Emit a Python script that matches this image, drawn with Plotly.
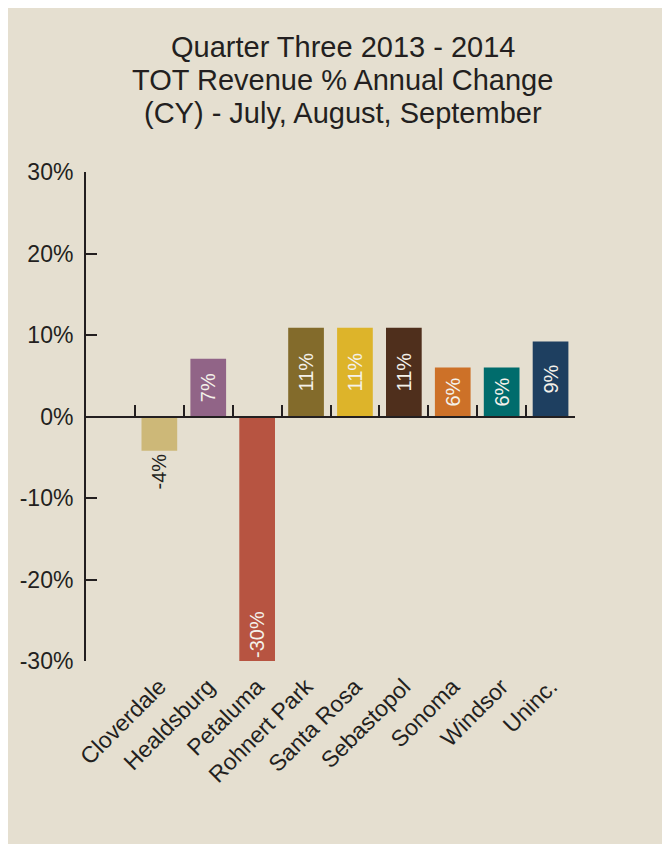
import plotly.graph_objects as go

categories = ["Cloverdale", "Healdsburg", "Petaluma", "Rohnert Park", "Santa Rosa",
              "Sebastopol", "Sonoma", "Windsor", "Uninc."]
values = [-4.2, 7.1, -30.0, 10.9, 10.9, 10.9, 6.0, 6.0, 9.2]
value_labels = ["-4%", "7%", "-30%", "11%", "11%", "11%", "6%", "6%", "9%"]
colors = ["#cdb878", "#916487", "#b75441", "#836b2b", "#ddb42a",
          "#4f2f1c", "#cd7128", "#006c6c", "#1e3f60"]
title_lines = ["Quarter Three 2013 - 2014", "TOT Revenue % Annual Change",
               "(CY) - July, August, September"]
y_ticks = [-30, -20, -10, 0, 10, 20, 30]
y_ticktext = ["-30%", "-20%", "-10%", "0%", "10%", "20%", "30%"]

BG = "#e5dfd0"
INK = "#231f20"
FONT = "Liberation Sans, Arial, sans-serif"

W, H = 670, 844
OFF = 8  # page body margin
L, R, T, B = 84 - OFF, 670 - 575 + OFF, 172 - OFF, 844 - 661 + OFF
pw, ph = W - L - R, H - T - B

def px_x(p):
    return (p - OFF - L) / pw

def px_y(p):
    return (H - B - (p - OFF)) / ph

fig = go.Figure()

idx_a = [i for i in range(len(categories)) if categories[i] != "Petaluma"]
idx_b = [i for i in range(len(categories)) if categories[i] == "Petaluma"]

fig.add_trace(go.Bar(
    x=[categories[i] for i in idx_a],
    y=[values[i] for i in idx_a],
    text=[value_labels[i] for i in idx_a],
    textposition=["outside" if values[i] < 0 else "inside" for i in idx_a],
    insidetextanchor="middle",
    textangle=-90,
    constraintext="none",
    insidetextfont=dict(color="#f4f1ea", size=20, family=FONT),
    outsidetextfont=dict(color=INK, size=20, family=FONT),
    marker=dict(color=[colors[i] for i in idx_a], line=dict(width=0)),
    width=0.73,
    hoverinfo="skip",
    showlegend=False,
))
fig.add_trace(go.Bar(
    x=[categories[i] for i in idx_b],
    y=[values[i] for i in idx_b],
    text=[value_labels[i] for i in idx_b],
    textposition="inside",
    insidetextanchor="end",
    textangle=-90,
    constraintext="none",
    insidetextfont=dict(color="#f4f1ea", size=20, family=FONT),
    marker=dict(color=[colors[i] for i in idx_b], line=dict(width=0)),
    width=0.73,
    hoverinfo="skip",
    showlegend=False,
))

fig.add_trace(go.Scatter(
    x=categories, y=[0] * len(categories), xaxis="x2", mode="markers",
    marker=dict(opacity=0), hoverinfo="skip", showlegend=False,
))

for i, line in enumerate(title_lines):
    fig.add_annotation(
        text=line, xref="paper", yref="paper",
        x=px_x(342), y=px_y(47 + 33 * i),
        xanchor="center", yanchor="middle", showarrow=False,
        font=dict(size=29, color=INK, family=FONT),
    )

fig.update_layout(
    width=W, height=H,
    margin=dict(l=L, r=R, t=T, b=B, pad=0),
    paper_bgcolor=BG,
    plot_bgcolor=BG,
    barmode="overlay",
    font=dict(family=FONT, color=INK),
    xaxis=dict(
        type="category", categoryorder="array", categoryarray=categories,
        range=[-1.5, 8.5], anchor="free", position=0.5,
        showline=True, linecolor=INK, linewidth=2,
        ticks="inside", tickson="boundaries", ticklen=11, tickwidth=2, tickcolor=INK,
        showticklabels=False, showgrid=False, zeroline=False,
    ),
    xaxis2=dict(
        type="category", categoryorder="array", categoryarray=categories,
        range=[-1.5, 8.5], overlaying="x", side="bottom", anchor="y",
        showline=False, showgrid=False, zeroline=False,
        ticks="outside", ticklen=2, tickcolor="rgba(0,0,0,0)",
        tickangle=-45, tickfont=dict(size=23, color=INK, family=FONT),
    ),
    yaxis=dict(
        range=[-30, 30], tickvals=y_ticks, ticktext=y_ticktext,
        showline=True, linecolor=INK, linewidth=2,
        ticks="inside", ticklen=11, tickwidth=2, tickcolor=INK,
        tickfont=dict(size=23, color=INK, family=FONT),
        ticklabelstandoff=6,
        showgrid=False, zeroline=False,
    ),
)

fig.write_html("out.html")
